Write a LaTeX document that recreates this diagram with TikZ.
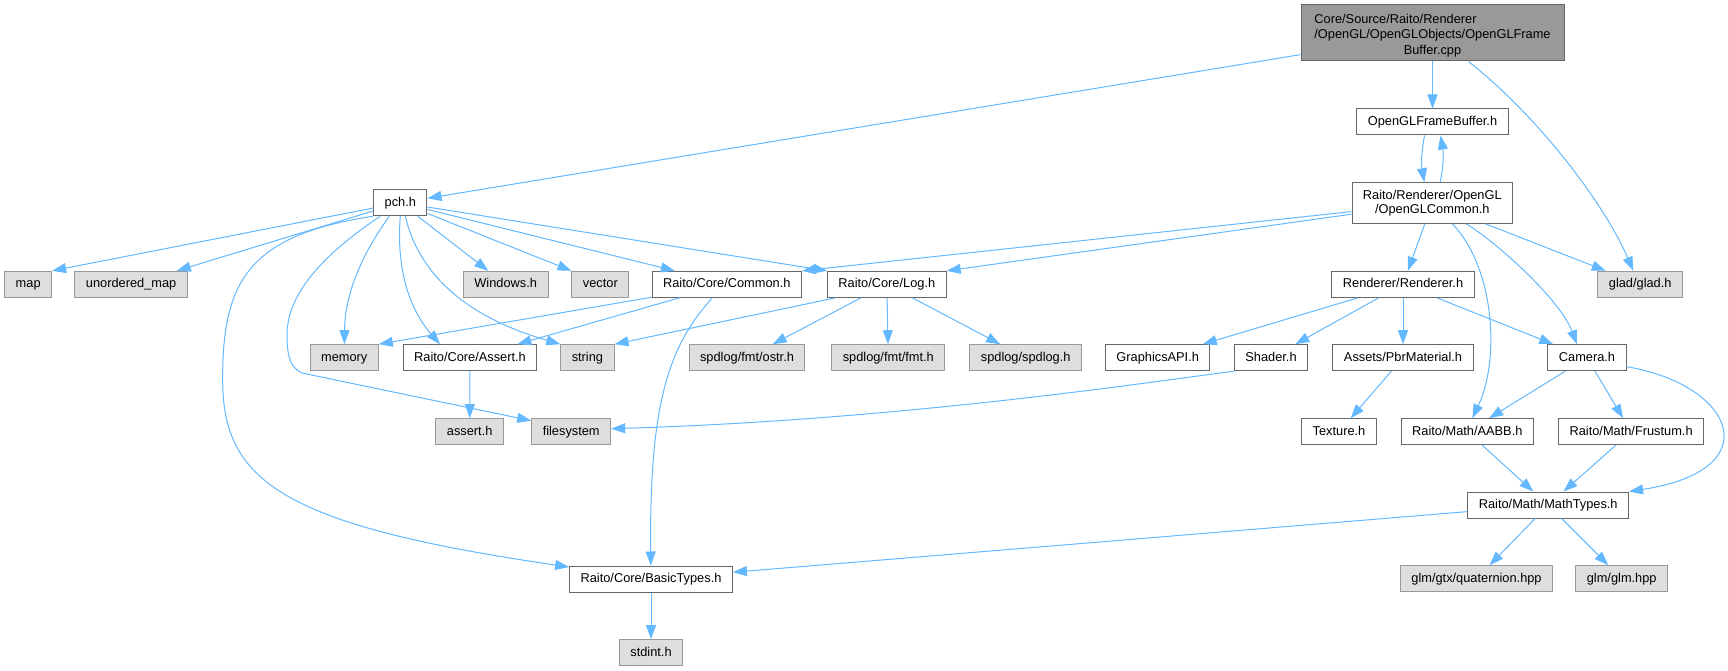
\documentclass[tikz,border=0pt]{standalone}
\usepackage{fontspec}
\setmainfont{Liberation Sans}
\usetikzlibrary{arrows.meta}
\definecolor{edgeblue}{HTML}{63B8FF}
\definecolor{grey40}{HTML}{666666}
\definecolor{grey60}{HTML}{999999}
\definecolor{grey87}{HTML}{DEDEDE}
\begin{document}
\begin{tikzpicture}[x=1pt,y=-1pt,font={\fontsize{12.8}{15.5}\selectfont},
box/.style={draw=grey40,fill=white,line width=1pt,minimum height=26pt,inner xsep=11pt,inner ysep=0pt,text height=9.4pt,text depth=2.6pt},
ext/.style={box,draw=grey60,fill=grey87},
edge/.style={draw=edgeblue,line width=1pt,-{Triangle[length=14pt,width=10pt]}}]
\useasboundingbox (0,0) rectangle (1728,671);
\node[draw=grey40,fill=grey60,line width=1pt,minimum width=263pt,minimum height=56pt,inner sep=0pt] (1) at (1432.5,33) {\raisebox{-2.5pt}[\height][\depth]{\begin{tabular}{@{}l@{}}Core/Source/Raito/Renderer\\/OpenGL/OpenGLObjects/OpenGLFrame\\\multicolumn{1}{@{}c@{}}{Buffer.cpp}\end{tabular}}};
\node[box] (2) at (1432.5,122) {OpenGLFrameBuffer.h};
\node[draw=grey40,fill=white,line width=1pt,minimum width=160.6pt,minimum height=40.6pt,inner sep=0pt,align=center,font={\fontsize{12.8}{14}\selectfont}] (3) at (1432.3,203) {Raito/Renderer/OpenGL\\/OpenGLCommon.h};
\node[box] (4) at (400.3,202.7) {pch.h};
\node[ext] (5) at (28.2,284.3) {map};
\node[ext] (6) at (131.1,284.3) {unordered\_map};
\node[ext] (7) at (505.7,284.3) {Windows.h};
\node[ext] (8) at (600.4,284.3) {vector};
\node[box] (9) at (726.8,284.3) {Raito/Core/Common.h};
\node[box] (10) at (886.8,284.3) {Raito/Core/Log.h};
\node[ext] (11) at (1640.2,284.3) {glad/glad.h};
\node[box] (12) at (1403,284.3) {Renderer/Renderer.h};
\node[ext] (13) at (344.2,357.7) {memory};
\node[box] (14) at (470,357.7) {Raito/Core/Assert.h};
\node[ext] (15) at (587.4,357.7) {string};
\node[ext] (16) at (747,357.7) {spdlog/fmt/ostr.h};
\node[ext] (17) at (888.3,357.7) {spdlog/fmt/fmt.h};
\node[ext] (18) at (1025.7,357.7) {spdlog/spdlog.h};
\node[box] (19) at (1157.7,357.7) {GraphicsAPI.h};
\node[box] (20) at (1271,357.7) {Shader.h};
\node[box] (21) at (1403,357.7) {Assets/PbrMaterial.h};
\node[box] (22) at (1587,357.7) {Camera.h};
\node[ext] (23) at (469.7,431.7) {assert.h};
\node[ext] (24) at (571.2,431.7) {filesystem};
\node[box] (25) at (1339,431.7) {Texture.h};
\node[box] (26) at (1467.3,431.7) {Raito/Math/AABB.h};
\node[box] (27) at (1631.1,431.7) {Raito/Math/Frustum.h};
\node[box] (28) at (1548.2,505) {Raito/Math/MathTypes.h};
\node[box] (29) at (651,579) {Raito/Core/BasicTypes.h};
\node[ext] (30) at (1476.5,578.7) {glm/gtx/quaternion.hpp};
\node[ext] (31) at (1621.7,578.7) {glm/glm.hpp};
\node[ext] (32) at (651,652.7) {stdint.h};
\draw[edge] (1) -- (4);
\draw[edge] (1) -- (2);
\draw[edge] ([xshift=36pt]1.south) .. controls (1540,118) and (1605,205) .. ([xshift=-7pt]11.north);
\draw[edge] ([xshift=-8pt]2.south) to[bend right=10] ([xshift=-8pt]3.north);
\draw[edge] ([xshift=8pt]3.north) to[bend right=10] ([xshift=8pt]2.south);
\draw[edge] (3) -- (9.north east);
\draw[edge] (3) -- (10.north east);
\draw[edge] (3) -- (12);
\draw[edge] ([xshift=20pt]3.south) .. controls (1495,268) and (1500,360) .. ([xshift=5pt]26.north);
\draw[edge] ([xshift=34pt]3.south) .. controls (1500,245) and (1560,300) .. ([xshift=-10pt]22.north);
\draw[edge] (3) -- (11);
\draw[edge] (4) -- (5.north east);
\draw[edge] (4) -- ([xshift=-11pt]6.north east);
\draw[edge] (4.south west) .. controls (250,235) and (222,280) .. (222.7,380) .. controls (222.7,480) and (280,525) .. ([yshift=12pt]29.west);
\draw[edge] ([xshift=-20pt]4.south) .. controls (330,250) and (287,290) .. (287,335) .. controls (287,360) and (292,368) .. (302,373) -- ([yshift=11pt]24.west);
\draw[edge] ([xshift=-11pt]4.south) .. controls (365,250) and (345,290) .. (13);
\draw[edge] (4.south) .. controls (396,270) and (410,310) .. ([xshift=-30pt]14.north);
\draw[edge] ([xshift=5pt]4.south) .. controls (418,270) and (460,315) .. (15.north west);
\draw[edge] (4) -- (7);
\draw[edge] (4) -- (8.north west);
\draw[edge] (4) -- ([xshift=-52pt]9.north);
\draw[edge] (4) -- (10.north west);
\draw[edge] (9) -- (13.north east);
\draw[edge] (9) -- ([xshift=-20pt]14.north east);
\draw[edge] ([xshift=-14.5pt]9.south) .. controls (670,345) and (649,400) .. (29);
\draw[edge] ([xshift=-51pt]10.south) -- (15.north east);
\draw[edge] (10) -- (16);
\draw[edge] (10) -- (17);
\draw[edge] (10) -- (18);
\draw[edge] (14) -- (23);
\draw[edge] (12) -- (19);
\draw[edge] (12) -- (20);
\draw[edge] (12) -- (21);
\draw[edge] (12) -- (22);
\draw[edge] (21) -- (25);
\draw[edge] (20.south west) .. controls (1150,382) and (900,420) .. ([yshift=3pt]24.east);
\draw[edge] (22) -- (26);
\draw[edge] (22) -- (27);
\draw[edge] ([yshift=-9pt]22.east) .. controls (1735,385) and (1770,470) .. (28.north east);
\draw[edge] (26) -- (28);
\draw[edge] (27) -- (28);
\draw[edge] (28) -- (30);
\draw[edge] (28) -- (31);
\draw[edge] (28) -- (29);
\draw[edge] (29) -- (32);
\end{tikzpicture}
\end{document}
